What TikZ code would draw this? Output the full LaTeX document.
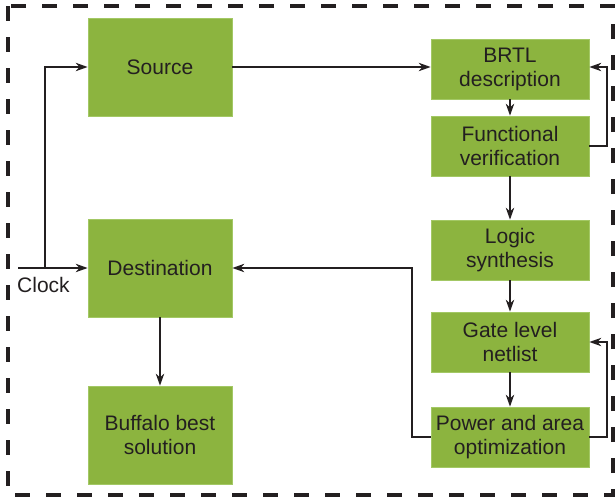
\documentclass[tikz,border=0pt]{standalone}
\usepackage{fontspec}
\setmainfont{Liberation Sans}
\usetikzlibrary{arrows.meta}
\definecolor{boxgreen}{HTML}{8CB43F}
\definecolor{boxedge}{HTML}{A3C865}
\definecolor{ink}{HTML}{231F20}
\begin{document}
\begin{tikzpicture}[x=1pt,y=-1pt,
  box/.style={draw=boxedge, line width=0.8pt, fill=boxgreen, text=ink, align=center, inner sep=0pt, font=\fontsize{21}{24}\selectfont},
  bigbox/.style={box, minimum width=144pt, minimum height=98pt},
  stepbox/.style={box, minimum width=158pt, minimum height=60pt},
  flow/.style={draw=ink, line width=1.2pt, -{Stealth[length=12pt,width=8.5pt]}},
  plain/.style={draw=ink, line width=1.2pt}]
\useasboundingbox (0,0) rectangle (616,501);
\draw[ink, line width=3.5pt, dash pattern=on 15pt off 16pt] (8,6) rectangle (613,495);

\node[bigbox] (src) at (160,67) {Source};
\node[bigbox] (dest) at (160,268) {Destination};
\node[bigbox] (buf) at (160,435) {Buffalo best\\solution};

\node[stepbox] (brtl) at (510,69) {BRTL\\description};
\node[stepbox] (func) at (510,146) {Functional\\verification};
\node[stepbox] (logic) at (510,250) {Logic\\synthesis};
\node[stepbox] (gate) at (510,342) {Gate level\\netlist};
\node[stepbox] (pow) at (510,437) {Power and area\\optimization};

\coordinate (clk) at (18,268);
\coordinate (jn) at (45,268);
\node[anchor=base west, text=ink, inner sep=0pt, font=\fontsize{21}{24}\selectfont] (clklbl) at (17,292) {Clock};

\draw[flow] (clk) -- (dest.west);
\draw[flow] (jn) |- (src.west);
\draw[flow] (src.east) -- (src.east -| brtl.west);
\draw[flow] (brtl.south) -- (func.north);
\draw[flow] (func.south) -- (logic.north);
\draw[flow] (logic.south) -- (gate.north);
\draw[flow] (gate.south) -- (pow.north);
\draw[flow] (dest.south) -- (buf.north);

\coordinate (fb1) at (607,146);
\draw[flow] (func.east) -- (fb1) |- (src.east -| brtl.east);
\coordinate (fb2) at (607,437);
\draw[flow] (pow.east) -- (fb2) |- (gate.east);
\coordinate (fb3) at (412,437);
\draw[flow] (pow.west) -- (fb3) |- (dest.east);
\end{tikzpicture}
\end{document}
